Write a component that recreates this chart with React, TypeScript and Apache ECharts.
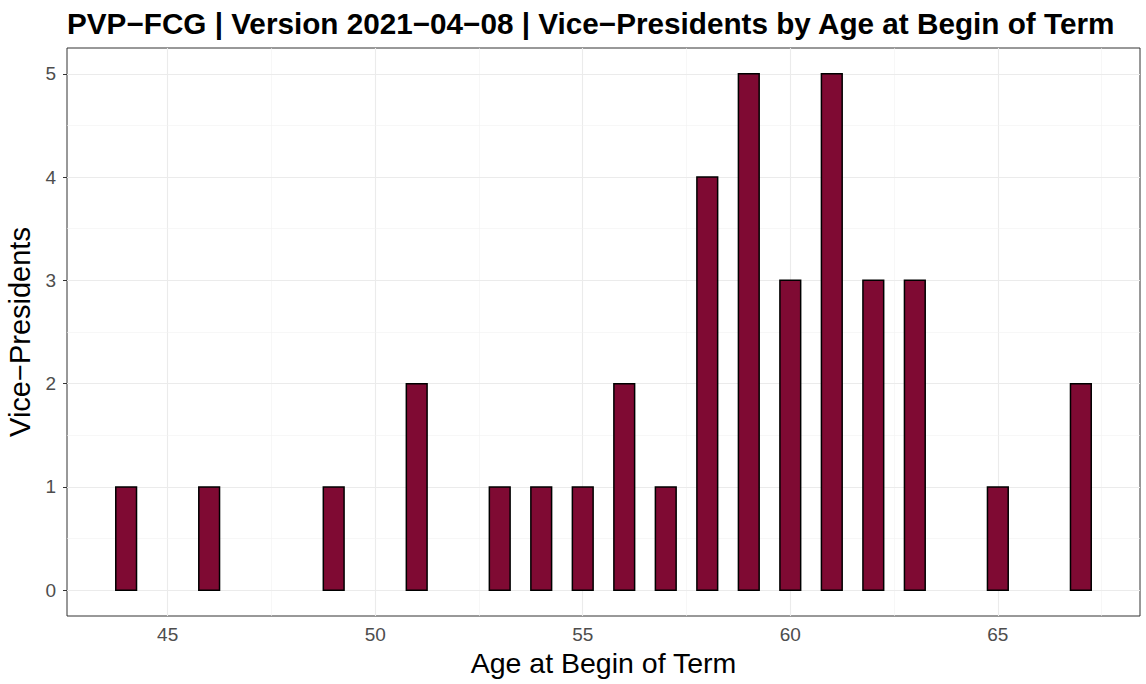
import React, { useEffect, useRef } from "react";
import * as echarts from "echarts";

const ages = [44, 46, 49, 51, 53, 54, 55, 56, 57, 58, 59, 60, 61, 62, 63, 65, 67];
const counts = [1, 1, 1, 2, 1, 1, 1, 2, 1, 4, 5, 3, 5, 3, 3, 1, 2];
const xTicks = [45, 50, 55, 60, 65];
const xMinor = [47.5, 52.5, 57.5, 62.5, 67.5];
const yTicks = [0, 1, 2, 3, 4, 5];
const yMinor = [0.5, 1.5, 2.5, 3.5, 4.5];
const barWidth = 0.5;
const titleText = "PVP\u2212FCG | Version 2021\u221204\u221208 | Vice\u2212Presidents by Age at Begin of Term";
const xTitle = "Age at Begin of Term";
const yTitle = "Vice\u2212Presidents";

const FONT = "'Liberation Sans', Arial, Helvetica, sans-serif";

export default function App() {
  const ref = useRef<HTMLDivElement>(null);
  useEffect(() => {
    if (!ref.current) return;
    const chart = echarts.init(ref.current, undefined, { renderer: "svg" });
    const major = { color: "#ebebeb", width: 1.1, type: "solid" };
    const minor = { color: "#f2f2f2", width: 0.6, type: "solid" };
    const gridLines = [
      ...xTicks.map((v) => ({ xAxis: v, lineStyle: major })),
      ...xMinor.map((v) => ({ xAxis: v, lineStyle: minor })),
      ...yTicks.map((v) => ({ yAxis: v, lineStyle: major })),
      ...yMinor.map((v) => ({ yAxis: v, lineStyle: minor })),
    ];
    chart.setOption({
      animation: false,
      backgroundColor: "#ffffff",
      title: {
        text: titleText,
        left: 62,
        top: 3,
        textStyle: { fontFamily: FONT, fontWeight: "bold", fontSize: 29.7, color: "#000" },
      },
      grid: {
        left: 67,
        right: 6,
        top: 48,
        bottom: 68,
        outerBoundsMode: "none",
        containLabel: false,
        show: true,
        borderColor: "#333333",
        borderWidth: 1,
        backgroundColor: "#ffffff",
        z: 0,
      },
      xAxis: {
        type: "value",
        min: 42.575,
        max: 68.425,
        name: xTitle,
        nameLocation: "middle",
        nameGap: 31,
        nameTextStyle: { fontFamily: FONT, fontSize: 28.5, color: "#000" },
        axisLine: { show: false },
        splitLine: { show: false },
        axisTick: { show: true, customValues: xTicks, length: 4, lineStyle: { color: "#333333", width: 1 } },
        axisLabel: { customValues: xTicks, fontFamily: FONT, fontSize: 19, color: "#4d4d4d", margin: 9 },
      },
      yAxis: {
        type: "value",
        min: -0.25,
        max: 5.25,
        name: yTitle,
        nameLocation: "middle",
        nameRotate: 90,
        nameGap: 32,
        nameTextStyle: { fontFamily: FONT, fontSize: 29, color: "#000" },
        axisLine: { show: false },
        splitLine: { show: false },
        axisTick: { show: true, customValues: yTicks, length: 4, lineStyle: { color: "#333333", width: 1 } },
        axisLabel: { customValues: yTicks, fontFamily: FONT, fontSize: 19, color: "#4d4d4d", margin: 11 },
      },
      series: [
        {
          type: "line",
          data: [],
          silent: true,
          z: 1,
          markLine: {
            silent: true,
            z: 1,
            symbol: ["none", "none"],
            label: { show: false },
            animation: false,
            data: gridLines,
          },
        },
        {
          type: "custom",
          z: 10,
          clip: true,
          data: ages.map((a, i) => [a, counts[i]]),
          renderItem: (params: any, api: any) => {
            const x = api.value(0);
            const y = api.value(1);
            const p0 = api.coord([x - barWidth / 2, y]);
            const p1 = api.coord([x + barWidth / 2, 0]);
            return {
              type: "rect",
              z2: 10,
              shape: { x: p0[0], y: p0[1], width: p1[0] - p0[0], height: p1[1] - p0[1] },
              style: { fill: "#7f0a33", stroke: "#000000", lineWidth: 1.5 },
            };
          },
        },
      ],
    });
    return () => chart.dispose();
  }, []);
  return (
    <div
      ref={ref}
      style={{ position: "fixed", left: 0, top: 0, width: 1146, height: 684, background: "#fff" }}
    />
  );
}
